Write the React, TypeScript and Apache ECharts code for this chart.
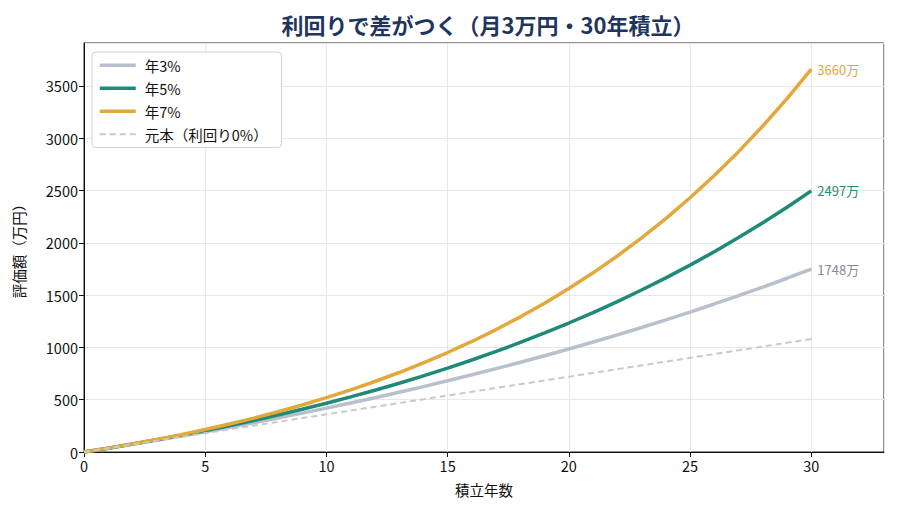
import React, { useEffect, useRef } from "react";
import * as echarts from "echarts";

const years = [0, 1, 2, 3, 4, 5, 6, 7, 8, 9, 10, 11, 12, 13, 14, 15, 16, 17, 18, 19, 20, 21, 22, 23, 24, 25, 26, 27, 28, 29, 30];
const rate3 = [0, 36.5, 74.1, 112.9, 152.8, 193.9, 236.3, 280.0, 325.0, 371.4, 419.2, 468.5, 519.2, 571.5, 625.4, 680.9, 738.1, 797.1, 857.8, 920.4, 984.9, 1051.4, 1119.8, 1190.4, 1263.1, 1338.0, 1415.2, 1494.8, 1576.7, 1661.2, 1748.2];
const rate5 = [0, 36.8, 75.6, 116.3, 159.0, 204.0, 251.3, 301.0, 353.2, 408.1, 465.8, 526.5, 590.3, 657.3, 727.8, 801.9, 879.7, 961.6, 1047.6, 1138.0, 1233.1, 1333.0, 1438.1, 1548.5, 1664.5, 1786.5, 1914.8, 2049.6, 2191.3, 2340.2, 2496.8];
const rate7 = [0, 37.2, 77.0, 119.8, 165.6, 214.8, 267.5, 323.9, 384.6, 449.6, 519.3, 594.0, 674.1, 760.0, 852.1, 950.9, 1056.8, 1170.4, 1292.2, 1422.8, 1562.8, 1712.9, 1873.9, 2046.4, 2231.7, 2430.2, 2643.0, 2871.3, 3116.1, 3378.5, 3660.0];
const principal = [0, 36, 72, 108, 144, 180, 216, 252, 288, 324, 360, 396, 432, 468, 504, 540, 576, 612, 648, 684, 720, 756, 792, 828, 864, 900, 936, 972, 1008, 1044, 1080];

const seriesNames = ["年3%", "年5%", "年7%", "元本（利回り0%）"];
const titleText = "利回りで差がつく（月3万円・30年積立）";

const FONT = "'Noto Sans CJK JP', 'Noto Sans', sans-serif";

export default function App() {
  const ref = useRef<HTMLDivElement>(null);
  useEffect(() => {
    if (!ref.current) return;
    const chart = echarts.init(ref.current, undefined, { renderer: "svg" });
    const pair = (arr: number[]) => years.map((y, i) => [y, arr[i]]);
    const endLabel = (color: string) => ({
      show: true,
      formatter: (p: any) => Math.round(p.value[1]) + "万",
      color,
      fontSize: 13,
      fontFamily: FONT,
      distance: 6,
    });
    chart.setOption({
      animation: false,
      textStyle: { fontFamily: FONT },
      title: {
        text: titleText,
        left: 483,
        textAlign: "center",
        top: 8,
        textStyle: { fontSize: 22, fontWeight: "bold", color: "#1f355e", fontFamily: FONT },
      },
      grid: {
        left: 84,
        right: 16,
        top: 43,
        bottom: 65,
        show: true,
        borderColor: "#222",
        borderWidth: 1,
      },
      legend: {
        orient: "vertical",
        left: 92,
        top: 52,
        padding: [6, 14, 6, 6],
        itemWidth: 36,
        itemHeight: 14,
        itemGap: 8.5,
        backgroundColor: "#fff",
        borderColor: "#d0d0d0",
        borderWidth: 1,
        borderRadius: 4,
        data: [
          { name: seriesNames[0], lineStyle: { width: 3.5 } },
          { name: seriesNames[1], lineStyle: { width: 3.5 } },
          { name: seriesNames[2], lineStyle: { width: 3.5 } },
          { name: seriesNames[3], lineStyle: { width: 2 } },
        ],
        itemStyle: { opacity: 0 },
        textStyle: { fontSize: 14.5, color: "#111", fontFamily: FONT, padding: [0, 0, 0, 4] },
      },
      xAxis: {
        type: "value",
        min: 0,
        max: 33,
        interval: 5,
        name: "積立年数",
        nameLocation: "middle",
        nameGap: 30,
        nameTextStyle: { fontSize: 14.5, color: "#111", fontFamily: FONT },
        axisLine: { show: true, lineStyle: { color: "#111", width: 1 } },
        axisTick: { show: true, inside: false, length: 5, lineStyle: { color: "#111" } },
        axisLabel: { fontSize: 14.5, color: "#111", margin: 6, showMaxLabel: false, fontFamily: FONT },
        splitLine: { show: true, lineStyle: { color: "#e8e8e8", width: 1 } },
      },
      yAxis: {
        type: "value",
        min: 0,
        max: 3910,
        interval: 500,
        name: "評価額（万円）",
        nameLocation: "middle",
        nameGap: 58,
        nameRotate: 90,
        nameTextStyle: { fontSize: 14.5, color: "#111", fontFamily: FONT },
        axisLine: { show: true, lineStyle: { color: "#111", width: 1 } },
        axisTick: { show: true, inside: false, length: 5, lineStyle: { color: "#111" } },
        axisLabel: {
          fontSize: 14.5,
          color: "#111",
          margin: 6,
          showMaxLabel: false,
          fontFamily: FONT,
          formatter: (v: number) => String(v),
        },
        splitLine: { show: true, lineStyle: { color: "#e8e8e8", width: 1 } },
      },
      series: [
        {
          name: seriesNames[0],
          type: "line",
          data: pair(rate3),
          symbol: "none",
          lineStyle: { color: "#b8c0cd", width: 3.5 },
          itemStyle: { color: "#b8c0cd" },
          endLabel: endLabel("#858b96"),
          z: 2,
        },
        {
          name: seriesNames[1],
          type: "line",
          data: pair(rate5),
          symbol: "none",
          lineStyle: { color: "#1f8a78", width: 3.5 },
          itemStyle: { color: "#1f8a78" },
          endLabel: endLabel("#1f8a78"),
          z: 3,
        },
        {
          name: seriesNames[2],
          type: "line",
          data: pair(rate7),
          symbol: "none",
          lineStyle: { color: "#e3a83b", width: 3.5 },
          itemStyle: { color: "#e3a83b" },
          endLabel: endLabel("#e3a83b"),
          z: 4,
        },
        {
          name: seriesNames[3],
          type: "line",
          data: pair(principal),
          symbol: "none",
          lineStyle: { color: "#c9c9c9", width: 2, type: [6, 4] },
          itemStyle: { color: "#c9c9c9" },
          z: 5,
        },
      ],
    });
    return () => chart.dispose();
  }, []);
  return (
    <div
      ref={ref}
      style={{ position: "fixed", left: 0, top: 0, width: 900, height: 517, background: "#fff" }}
    />
  );
}
